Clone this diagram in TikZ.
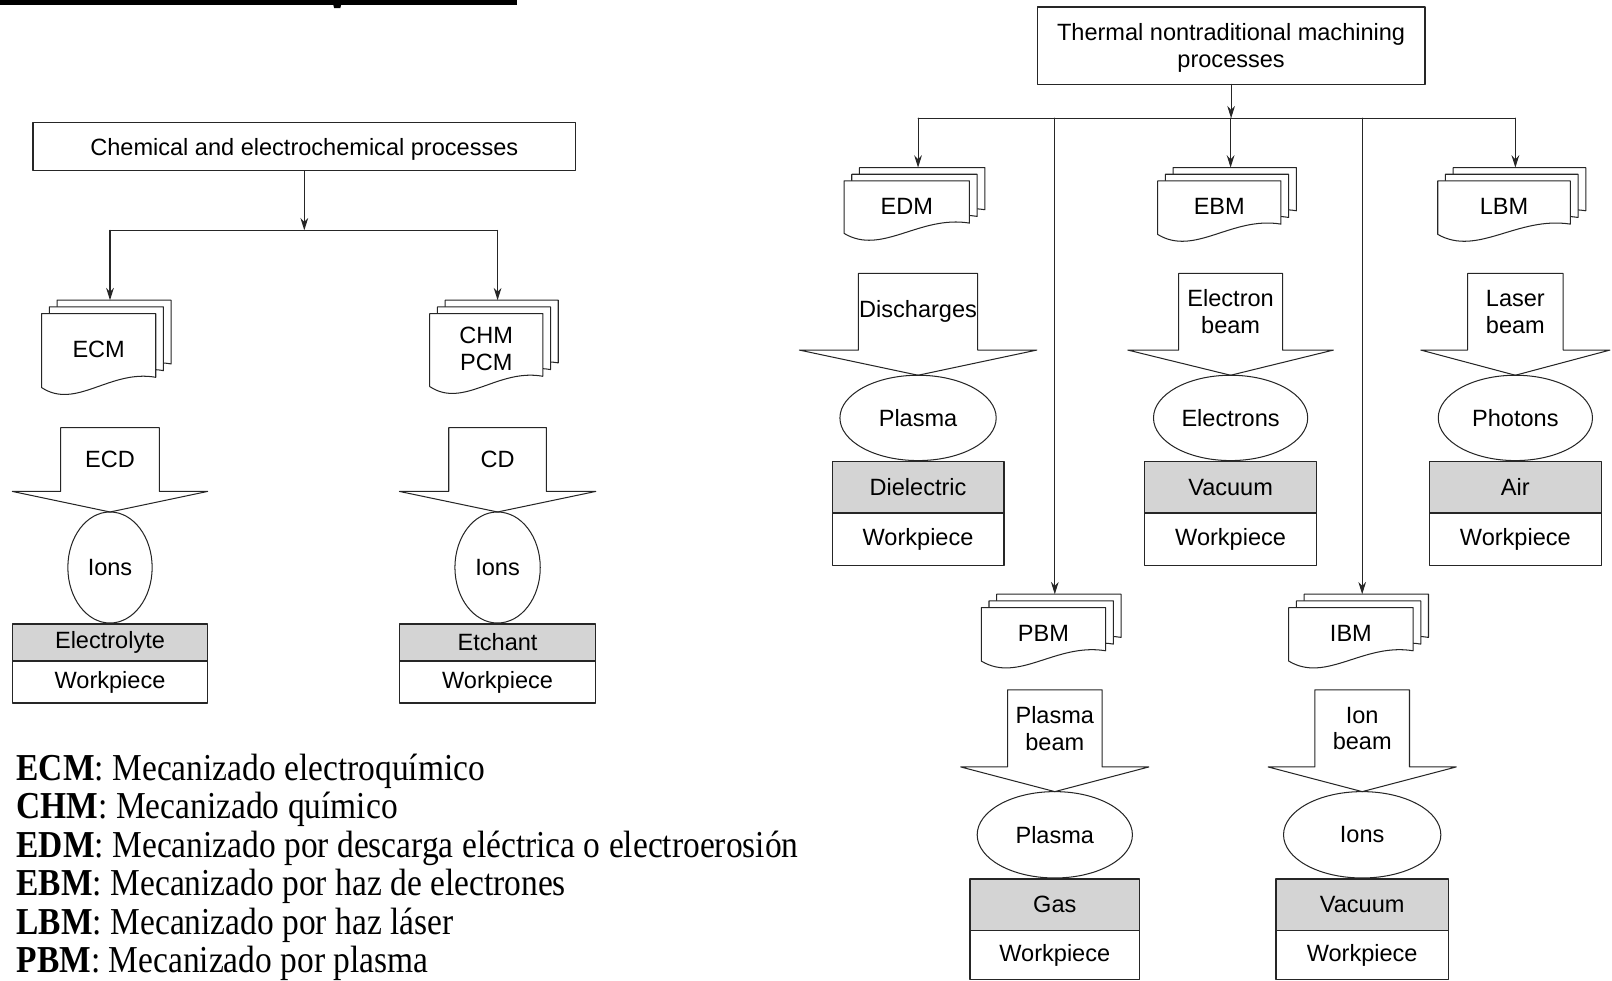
\documentclass[tikz,border=0pt]{standalone}
\usepackage{fontspec}
\setmainfont{Liberation Serif}
\setsansfont{Liberation Sans}
\newfontfamily\legendfont[FakeStretch=0.88]{Liberation Serif}
\usetikzlibrary{shapes.geometric,arrows.meta,positioning}

\begin{document}
\begin{tikzpicture}[
  x=1pt,
  y=-1pt,
  line cap=round,
  line join=round,
  font=\sffamily\fontsize{22.9}{26}\selectfont,
  thin line/.style={draw=black!85,line width=1pt},
  arr/.style={thin line,-{Stealth[length=12pt,width=7.5pt]}},
  titlebox/.style={thin line,line width=1.4pt,rectangle,
    inner sep=0pt,outer sep=0pt,align=center,text depth=0pt},
  medium/.style={thin line,ellipse,inner sep=0pt,outer sep=0pt},
  layerbox/.style={thin line,line width=1.4pt,rectangle,
    inner sep=0pt,outer sep=0pt},
  fluid/.style={layerbox,fill=black!17},
  pics/docstack/.style n args={3}{code={
    \foreach \k in {2,1,0} {
      \pgfmathsetmacro\xl{-11+\k*7.5-#1/2}
      \pgfmathsetmacro\xr{-11+\k*7.5+#1/2}
      \pgfmathsetmacro\yt{(2-\k)*6.5}
      \pgfmathsetmacro\yb{(2-\k)*6.5+#2}
      \draw[thin line,fill=white]
        (\xl,\yt) -- (\xl,\yb)
        .. controls ({\xl+0.3*#1},{\yb+22}) and ({\xl+0.6*#1},{\yb-18})
        .. (\xr,{\yb-10})
        -- (\xr,\yt) -- cycle;
    }
    \node[inner sep=0pt,align=center] (-text) at (-11,{12+#2/2}) {#3};
    \coordinate (-in) at (0,0);
  }},
  pics/blockarrow/.style n args={5}{code={
    \draw[thin line,fill=white]
      (-#1,0) -- (#1,0) -- (#1,#3) -- (#2,#3)
      -- (0,{#3+#4}) -- (-#2,#3) -- (-#1,#3) -- cycle;
    \node[inner sep=0pt,align=center] (-text) at (0,{#3/2}) {#5};
    \coordinate (-tip) at (0,{#3+#4});
  }}
]
  \useasboundingbox (0,0) rectangle (1568,954);

  % Subrayado del titulo (cortado)
  \draw[line width=5pt,line cap=butt] (0,2) -- (503,2);
  \fill (323,0) -- (333,0) -- (331,8) -- (325,8) -- cycle;

  % Procesos quimicos y electroquimicos
  \node[titlebox,minimum width=528pt,minimum height=47pt]
    (chem) at (296,142.5) {Chemical and electrochemical processes};
  \coordinate (lbus) at (296,224);

  % ECM
  \pic (ecm) at (107,292) {docstack={111}{72}{ECM}};
  \pic (ecd) at (107,416) {blockarrow={48}{95}{62}{20}{ECD}};
  \node[medium,minimum width=82pt,minimum height=108pt,
    below=0pt of ecd-tip] (ecmions) {Ions};
  \node[fluid,minimum width=190pt,minimum height=36pt,
    below=1pt of ecmions] (ecmfluid) {Electrolyte};
  \node[layerbox,minimum width=190pt,minimum height=41pt,
    below=0pt of ecmfluid] (ecmwork) {Workpiece};

  % CHM / PCM
  \pic (chm) at (484,292) {docstack={110}{71}{CHM\\PCM}};
  \pic (cd) at (484,416) {blockarrow={47.5}{95.5}{62}{20}{CD}};
  \node[medium,minimum width=83pt,minimum height=108pt,
    below=0pt of cd-tip] (chmions) {Ions};
  \node[fluid,minimum width=191pt,minimum height=36pt,
    below=1pt of chmions] (chmfluid) {Etchant};
  \node[layerbox,minimum width=191pt,minimum height=41pt,
    below=0pt of chmfluid] (chmwork) {Workpiece};

  \draw[arr] (chem.south) -- (lbus);
  \draw[thin line] (ecm-in |- lbus) -- (chm-in |- lbus);
  \draw[arr] (ecm-in |- lbus) -- (ecm-in);
  \draw[arr] (chm-in |- lbus) -- (chm-in);

  % Procesos termicos
  \node[titlebox,minimum width=377pt,minimum height=75pt]
    (thermal) at (1197.5,44.5)
    {Thermal nontraditional machining\\processes};
  \coordinate (tbus) at (1197,115);

  % EDM
  \pic (edm) at (893,163) {docstack={122}{51}{EDM}};
  \pic (dis) at (893,266) {blockarrow={58}{115.5}{74.5}{24.5}{Discharges}};
  \node[medium,minimum width=152pt,minimum height=83pt,
    below=0pt of dis-tip] (edmplasma) {Plasma};
  \node[fluid,minimum width=167pt,minimum height=50pt,
    below=1pt of edmplasma] (edmfluid) {Dielectric};
  \node[layerbox,minimum width=167pt,minimum height=51pt,
    below=0pt of edmfluid] (edmwork) {Workpiece};

  % EBM
  \pic (ebm) at (1197,163) {docstack={120}{52}{EBM}};
  \pic (eb) at (1197,266) {blockarrow={50.5}{100}{74.5}{24.5}{Electron\\beam}};
  \node[medium,minimum width=150pt,minimum height=83pt,
    below=0pt of eb-tip] (ebmelec) {Electrons};
  \node[fluid,minimum width=167pt,minimum height=50pt,
    below=1pt of ebmelec] (ebmfluid) {Vacuum};
  \node[layerbox,minimum width=167pt,minimum height=51pt,
    below=0pt of ebmfluid] (ebmwork) {Workpiece};

  % LBM
  \pic (lbm) at (1474,163) {docstack={129}{52}{LBM}};
  \pic (lb) at (1474,266) {blockarrow={46.5}{92}{74.5}{24.5}{Laser\\beam}};
  \node[medium,minimum width=150pt,minimum height=83pt,
    below=0pt of lb-tip] (lbmphot) {Photons};
  \node[fluid,minimum width=167pt,minimum height=50pt,
    below=1pt of lbmphot] (lbmfluid) {Air};
  \node[layerbox,minimum width=167pt,minimum height=51pt,
    below=0pt of lbmfluid] (lbmwork) {Workpiece};

  % PBM
  \pic (pbm) at (1026,578) {docstack={121}{52}{PBM}};
  \pic (pb) at (1026,671) {blockarrow={46}{91.5}{75}{24}{Plasma\\beam}};
  \node[medium,minimum width=151pt,minimum height=84pt,
    below=0pt of pb-tip] (pbmplasma) {Plasma};
  \node[fluid,minimum width=165pt,minimum height=50pt,
    below=1pt of pbmplasma] (pbmfluid) {Gas};
  \node[layerbox,minimum width=165pt,minimum height=48pt,
    below=0pt of pbmfluid] (pbmwork) {Workpiece};

  % IBM
  \pic (ibm) at (1325,578) {docstack={121}{52}{IBM}};
  \pic (ib) at (1325,671) {blockarrow={46}{91.5}{75}{24}{Ion\\beam}};
  \node[medium,minimum width=153pt,minimum height=84pt,
    below=0pt of ib-tip] (ibmions) {Ions};
  \node[fluid,minimum width=168pt,minimum height=50pt,
    below=1pt of ibmions] (ibmfluid) {Vacuum};
  \node[layerbox,minimum width=168pt,minimum height=48pt,
    below=0pt of ibmfluid] (ibmwork) {Workpiece};

  \draw[arr] (thermal.south) -- (thermal.south |- tbus);
  \draw[thin line] (edm-in |- tbus) -- (lbm-in |- tbus);
  \foreach \p in {edm,ebm,lbm,pbm,ibm}
    \draw[arr] (\p-in |- tbus) -- (\p-in);

  % Leyenda
  \foreach \abbr/\desc [count=\i] in {
    ECM/Mecanizado electroquímico,
    CHM/Mecanizado químico,
    EDM/Mecanizado por descarga eléctrica o electroerosión,
    EBM/Mecanizado por haz de electrones,
    LBM/Mecanizado por haz láser,
    PBM/Mecanizado por plasma}
    \node[anchor=base west,inner sep=0pt,
      font=\legendfont\fontsize{37}{37.5}\selectfont]
      (leg-\abbr) at (16,{759+37.4*(\i-1)}) {\textbf{\abbr}: \desc};
\end{tikzpicture}
\end{document}
